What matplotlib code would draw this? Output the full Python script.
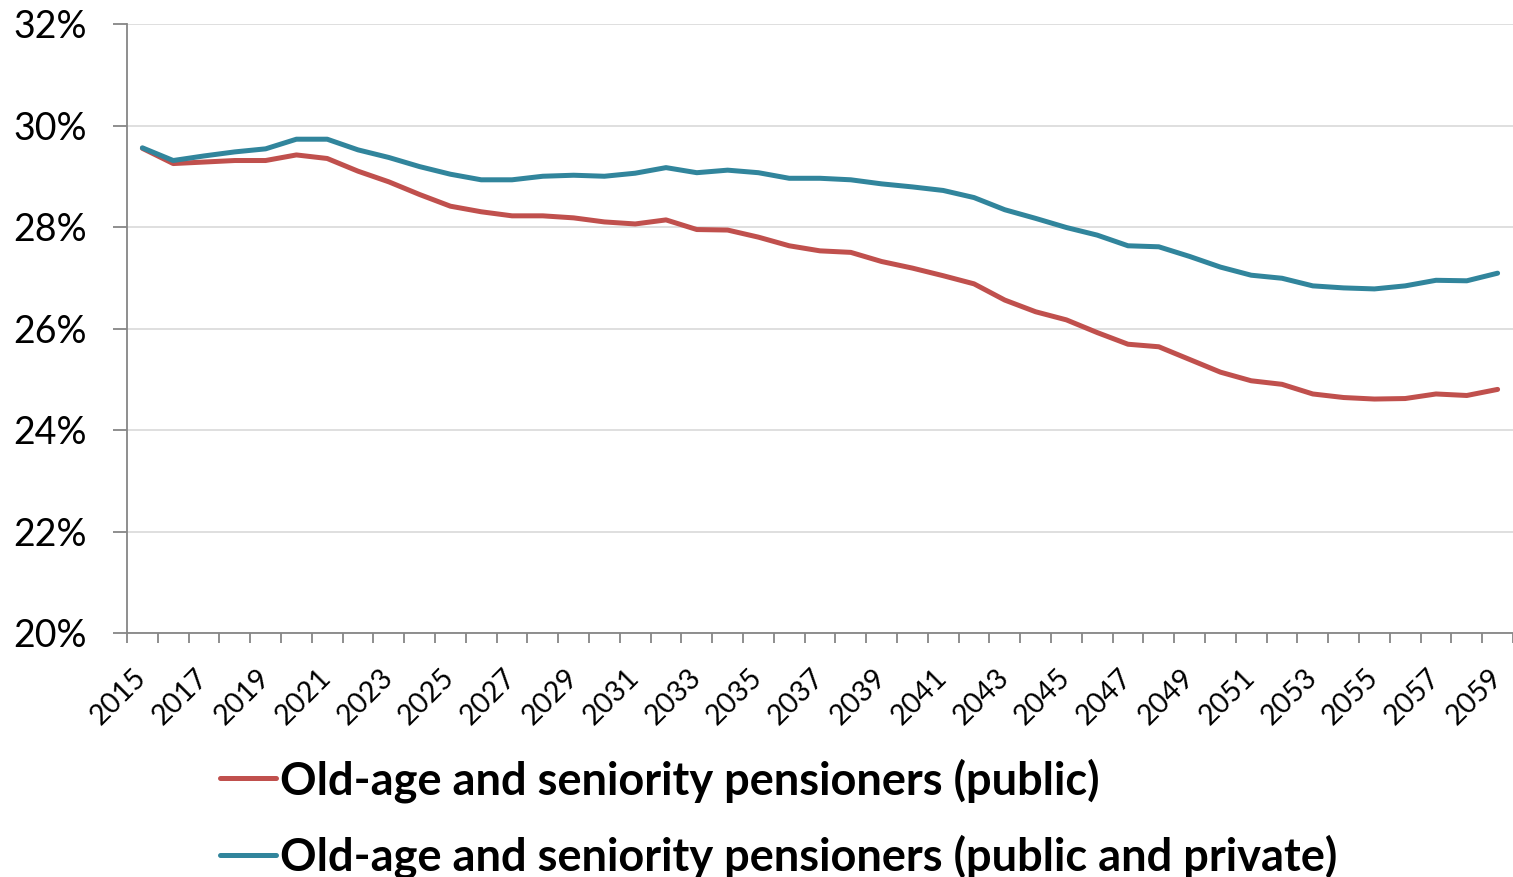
import matplotlib
matplotlib.use("Agg")
import matplotlib.pyplot as plt
from matplotlib.ticker import FixedLocator, FuncFormatter

plt.rcParams["font.family"] = ["Lato", "DejaVu Sans"]

years = list(range(2015, 2060))

public = [
    29.55, 29.25, 29.28, 29.31, 29.31, 29.42, 29.35, 29.10, 28.89, 28.64,
    28.41, 28.30, 28.22, 28.22, 28.18, 28.10, 28.06, 28.14, 27.95, 27.94,
    27.80, 27.63, 27.53, 27.50, 27.32, 27.19, 27.04, 26.88, 26.56, 26.33,
    26.17, 25.92, 25.69, 25.64, 25.39, 25.14, 24.97, 24.90, 24.71, 24.64,
    24.61, 24.62, 24.71, 24.68, 24.80,
]

public_private = [
    29.56, 29.31, 29.40, 29.48, 29.54, 29.73, 29.73, 29.52, 29.37, 29.19,
    29.04, 28.93, 28.93, 29.00, 29.02, 29.00, 29.06, 29.17, 29.07, 29.12,
    29.07, 28.96, 28.96, 28.93, 28.85, 28.79, 28.72, 28.58, 28.34, 28.17,
    27.99, 27.84, 27.63, 27.61, 27.42, 27.21, 27.05, 26.99, 26.84, 26.80,
    26.78, 26.84, 26.95, 26.94, 27.09,
]

series_labels = [
    "Old-age and seniority pensioners (public)",
    "Old-age and seniority pensioners (public and private)",
]
series_colors = ["#C0504D", "#31859C"]

y_ticks = [20, 22, 24, 26, 28, 30, 32]

W, H = 1513, 877
fig = plt.figure(figsize=(W / 100, H / 100), dpi=100)
ax = fig.add_axes([127 / W, (H - 633) / H, (W - 127) / W, (633 - 24) / H])

x = list(range(len(years)))
for vals, lab, col in zip([public, public_private], series_labels, series_colors):
    ax.plot(x, vals, color=col, lw=3.6, label=lab, solid_capstyle="round",
            solid_joinstyle="round")

ax.set_xlim(-0.5, len(years) - 0.5)
ax.set_ylim(20, 32)

axis_gray = "#868686"
for side in ["top", "right"]:
    ax.spines[side].set_visible(False)
for side in ["left", "bottom"]:
    ax.spines[side].set_color(axis_gray)
    ax.spines[side].set_linewidth(1.3)

ax.set_yticks(y_ticks)
ax.yaxis.set_major_formatter(FuncFormatter(lambda v, p: f"{v:.0f}%"))
ax.tick_params(axis="y", which="major", length=10, width=1.3, color=axis_gray,
               labelsize=27, pad=19, labelcolor="black")
ax.grid(axis="y", color="#D9D9D9", lw=1.2)
ax.set_axisbelow(True)

# year labels every two years, ticks on category boundaries
label_pos = x[::2]
ax.set_xticks(label_pos)
ax.set_xticklabels([str(years[i]) for i in label_pos], rotation=45,
                   ha="right", va="center", rotation_mode="anchor")
ax.xaxis.set_minor_locator(FixedLocator([i - 0.5 for i in range(len(years) + 1)]))
ax.tick_params(axis="x", which="major", length=0, labelsize=20.5, pad=29)
ax.tick_params(axis="x", which="minor", length=7.5, width=1.3, color=axis_gray)

fig.legend(loc="upper left", bbox_to_anchor=(220 / W, 1 - 758 / H),
           frameon=False, prop={"weight": "bold", "size": 32.5},
           handlelength=1.24, handletextpad=0.09, labelspacing=0.71,
           borderaxespad=0, borderpad=0)

fig.savefig("out.png", dpi=100)
